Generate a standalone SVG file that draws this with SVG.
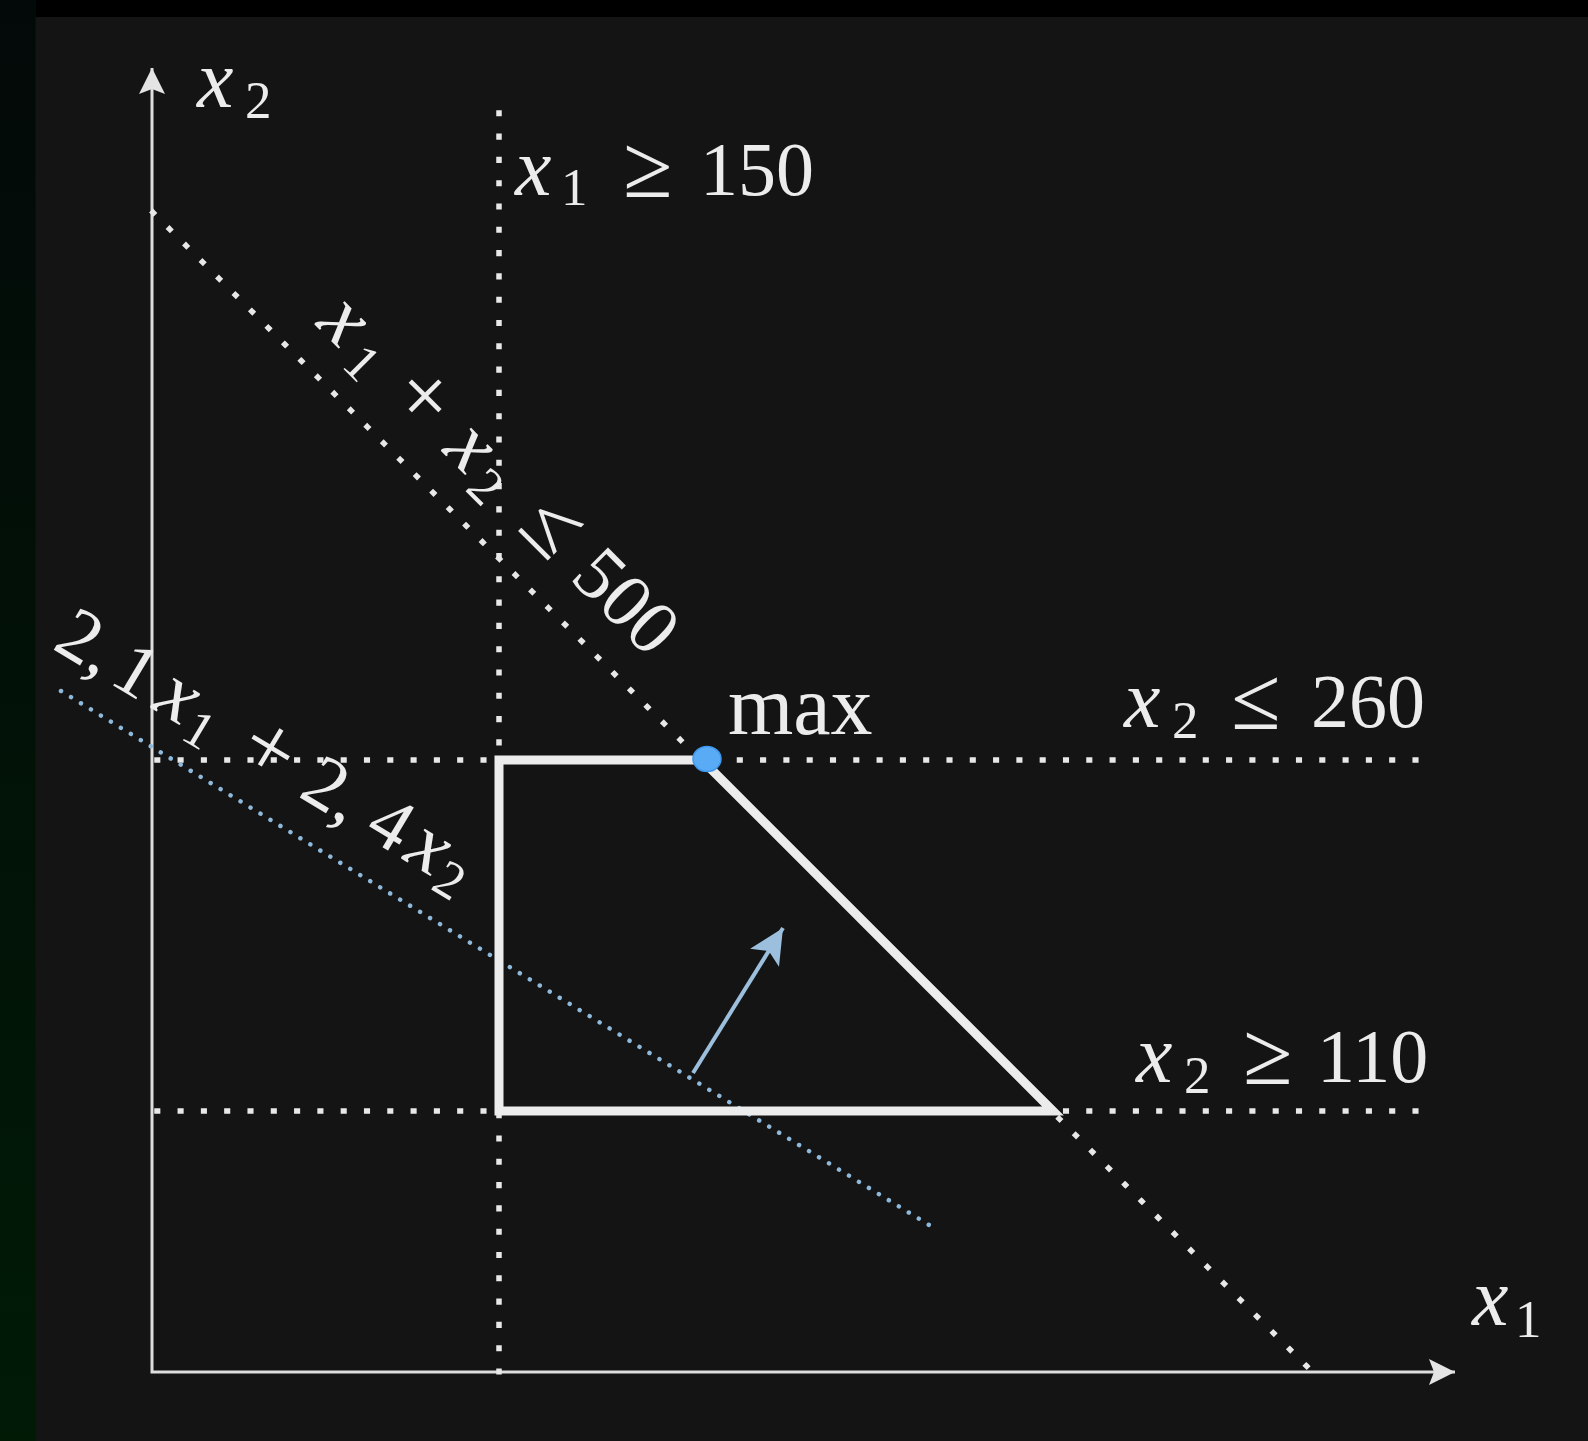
<svg xmlns="http://www.w3.org/2000/svg" width="1588" height="1441" viewBox="0 0 1588 1441">
<defs>
  <linearGradient id="side" x1="0" y1="0" x2="0" y2="1">
    <stop offset="0" stop-color="#030908"/>
    <stop offset="1" stop-color="#001a06"/>
  </linearGradient>
  <marker id="axhead" markerUnits="userSpaceOnUse" markerWidth="30" markerHeight="30" refX="26" refY="13" orient="auto-start-reverse" overflow="visible">
    <path d="M26,13 L0,0 L5,13 L0,26 Z" fill="#e4e4e4"/>
  </marker>
  <marker id="bluehead" markerUnits="userSpaceOnUse" markerWidth="40" markerHeight="40" refX="35" refY="17" orient="auto" overflow="visible">
    <path d="M35,17 L0,0 L8,17 L0,34 Z" fill="#9bbfdc"/>
  </marker>
  <style>
    .lbl { font-family: "Liberation Serif", "DejaVu Serif", serif; fill: #ececec; font-size: 76px; }
    .it { font-style: italic; font-size: 82px; }
    .sub { font-size: 53px; }
    .rel { font-size: 90px; }
    .plus { font-size: 90px; }
    .dot { fill: none; stroke: #e8e8e8; stroke-width: 5.5; stroke-dasharray: 0.6 22.7; stroke-linecap: square; }
    .bdot { fill: none; stroke: #8fb9db; stroke-width: 4.5; stroke-dasharray: 0.01 11.7; stroke-linecap: round; }
    .axis { fill: none; stroke: #dedede; stroke-width: 3; }
  </style>
</defs>

<rect width="1588" height="1441" fill="#000"/>
<rect x="0" y="0" width="36" height="1441" fill="url(#side)"/>
<rect x="35.5" y="17" width="1552.5" height="1424" fill="#141414"/>

<g id="connectors">
  <path id="axes" class="axis" d="M152,68 V1372 H1455" marker-start="url(#axhead)" marker-end="url(#axhead)"/>
  <line id="c-x1-150" class="dot" x1="499" y1="113" x2="499" y2="1372"/>
  <line id="c-sum-500" class="dot" x1="153" y1="212.5" x2="1307" y2="1366.5"/>
  <line id="c-x2-260" class="dot" x1="157" y1="760" x2="1426" y2="760"/>
  <line id="c-x2-110" class="dot" x1="157" y1="1111" x2="1416" y2="1111"/>
  <line id="c-objective" class="bdot" x1="61" y1="691" x2="934" y2="1228"/>
  <line id="c-gradient" x1="693" y1="1073" x2="783" y2="928" stroke="#9bbfdc" stroke-width="4" marker-end="url(#bluehead)"/>
</g>

<g id="feasible-region">
  <path d="M499,760 H702 L1053,1111 H499 Z" fill="none" stroke="#ececec" stroke-width="9" stroke-linejoin="miter"/>
</g>

<g id="max-point">
  <ellipse cx="707" cy="759" rx="14" ry="12.5" fill="#5aabf6" stroke="#3f97ee" stroke-width="1.5"/>
</g>

<g id="label-x2-axis">
  <text class="lbl"><tspan class="it" x="197" y="107">x</tspan><tspan class="sub" x="245" y="118">2</tspan></text>
</g>
<g id="label-x1-axis">
  <text class="lbl"><tspan class="it" x="1472" y="1325">x</tspan><tspan class="sub" x="1515" y="1337">1</tspan></text>
</g>
<g id="label-x1-150">
  <text class="lbl"><tspan class="it" x="515" y="195">x</tspan><tspan class="sub" x="561" y="205">1</tspan><tspan class="rel" x="623" y="197">≥</tspan><tspan x="700" y="195">150</tspan></text>
</g>
<g id="label-max">
  <text class="lbl" x="728" y="734" style="font-size:84px">max</text>
</g>
<g id="label-x2-260">
  <text class="lbl"><tspan class="it" x="1124" y="727">x</tspan><tspan class="sub" x="1172" y="738">2</tspan><tspan class="rel" x="1231" y="729">≤</tspan><tspan x="1311" y="727">260</tspan></text>
</g>
<g id="label-x2-110">
  <text class="lbl"><tspan class="it" x="1136" y="1082">x</tspan><tspan class="sub" x="1184" y="1093">2</tspan><tspan class="rel" x="1243" y="1084">≥</tspan><tspan x="1317" y="1082">110</tspan></text>
</g>
<g id="label-sum-500">
  <text class="lbl" transform="translate(314,324) rotate(45)"><tspan class="it" x="1" y="0">x</tspan><tspan class="sub" x="48" y="11">1</tspan><tspan class="plus" x="104" y="2">+</tspan><tspan class="it" x="180" y="0">x</tspan><tspan class="sub" x="223" y="11">2</tspan><tspan class="rel" x="287" y="2">≤</tspan><tspan x="360" y="0">500</tspan></text>
</g>
<g id="label-objective">
  <text class="lbl" transform="translate(51,648) rotate(31)"><tspan x="0" y="0">2,</tspan><tspan x="66" y="0">1</tspan><tspan class="it" x="116" y="0">x</tspan><tspan class="sub" x="156" y="11">1</tspan><tspan class="plus" x="214" y="2">+</tspan><tspan x="287" y="0">2,</tspan><tspan x="363" y="0">4</tspan><tspan class="it" x="409" y="0">x</tspan><tspan class="sub" x="448" y="11">2</tspan></text>
</g>
</svg>
